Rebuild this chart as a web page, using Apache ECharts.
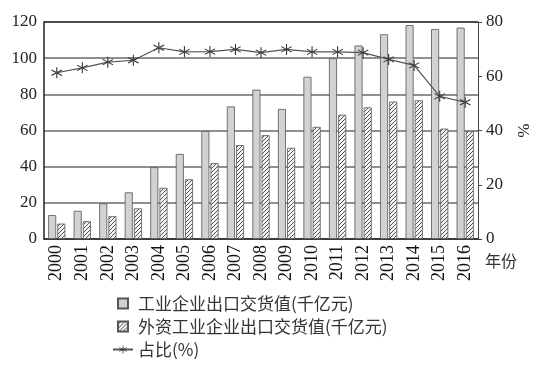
<!DOCTYPE html>
<html>
<head>
<meta charset="utf-8">
<script src="https://cdn.jsdelivr.net/npm/echarts@6/dist/echarts.min.js"></script>
<style>
  html, body { margin: 0; padding: 0; background: #fff; }
  #chart { width: 550px; height: 376px; }
</style>
</head>
<body>
<div id="chart"></div>
<script>
const years = ['2000', '2001', '2002', '2003', '2004', '2005', '2006', '2007', '2008',
  '2009', '2010', '2011', '2012', '2013', '2014', '2015', '2016'];
const industryExport = [13.2, 15.6, 19.7, 25.8, 39.7, 47, 59.7, 73.3, 82.6,
  71.9, 89.7, 100, 107, 113.2, 118.3, 116.1, 116.9];
const foreignExport = [8.5, 9.8, 12.6, 16.9, 28.3, 33, 41.9, 51.9, 57.4,
  50.4, 62, 68.7, 72.8, 76, 76.7, 61, 59.8];
const sharePct = [61.3, 63.1, 65.2, 65.9, 70.5, 69, 69.1, 69.9, 68.7,
  69.9, 69, 69, 68.7, 66.2, 64, 52.6, 50.4];
const leftTicks = [0, 20, 40, 60, 80, 100, 120];
const rightTicks = [0, 20, 40, 60, 80];

const serif = '"Liberation Serif", "Noto Sans CJK SC", serif';
const cjk = '"Noto Sans CJK SC", "Liberation Serif", sans-serif';

// diagonal hatch pattern for the foreign-funded bars
const hatch = document.createElement('canvas');
hatch.width = 4;
hatch.height = 4;
const hctx = hatch.getContext('2d');
hctx.fillStyle = '#f4f4f4';
hctx.fillRect(0, 0, 4, 4);
hctx.strokeStyle = '#555';
hctx.lineWidth = 1;
hctx.beginPath();
hctx.moveTo(0, 4);
hctx.lineTo(4, 0);
hctx.moveTo(-1, 1);
hctx.lineTo(1, -1);
hctx.moveTo(3, 5);
hctx.lineTo(5, 3);
hctx.stroke();

const star = 'path://M-0.09,-1L0.09,-1L0.09,1L-0.09,1Z' +
  'M-0.82,-0.58L0.91,0.42L0.82,0.58L-0.91,-0.42Z' +
  'M-0.82,0.58L0.91,-0.42L0.82,-0.58L-0.91,0.42Z';

// grid lines grey, top frame line black
const gridColors = leftTicks.map((t, i) => (i === leftTicks.length - 1 ? '#111' : '#6a6a6a'));

const chart = echarts.init(document.getElementById('chart'));

chart.setOption({
  animation: false,
  grid: { left: 44, right: 72, top: 22, bottom: 137 },
  legend: {
    orient: 'vertical',
    left: 107,
    top: 290,
    itemGap: 6,
    itemWidth: 20,
    itemHeight: 10,
    textStyle: { fontFamily: cjk, fontSize: 17, color: '#333' },
    data: [
      { name: '工业企业出口交货值(千亿元)', icon: 'path://M0,0h1v1h-1z' },
      { name: '外资工业企业出口交货值(千亿元)', icon: 'path://M0,0h1v1h-1z' },
      { name: '占比(%)' }
    ]
  },
  xAxis: {
    type: 'category',
    data: years,
    axisLine: { lineStyle: { color: '#222', width: 1.5 } },
    axisTick: { show: false },
    axisLabel: { rotate: 90, fontFamily: serif, fontSize: 18, color: '#111', margin: 6 }
  },
  yAxis: [
    {
      type: 'value',
      min: leftTicks[0],
      max: leftTicks[leftTicks.length - 1],
      interval: 20,
      axisLine: { show: true, lineStyle: { color: '#222', width: 1.5 } },
      axisTick: { show: false },
      axisLabel: { fontFamily: serif, fontSize: 17, color: '#222', margin: 7 },
      splitLine: { lineStyle: { color: gridColors, width: 1.6 } }
    },
    {
      type: 'value',
      min: rightTicks[0],
      max: rightTicks[rightTicks.length - 1],
      interval: 20,
      name: '%',
      nameLocation: 'middle',
      nameGap: 32,
      nameRotate: -90,
      nameTextStyle: { fontFamily: serif, fontSize: 17, color: '#222' },
      axisLine: { show: true, lineStyle: { color: '#444', width: 1 } },
      axisTick: { show: true, length: 4, lineStyle: { color: '#444' } },
      axisLabel: { fontFamily: serif, fontSize: 17, color: '#222', margin: 8 },
      splitLine: { show: false }
    }
  ],
  series: [
    {
      name: '工业企业出口交货值(千亿元)',
      type: 'bar',
      data: industryExport,
      barWidth: 8,
      barGap: '15%',
      itemStyle: { color: '#d2d2d2', borderColor: '#555', borderWidth: 0.8 }
    },
    {
      name: '外资工业企业出口交货值(千亿元)',
      type: 'bar',
      data: foreignExport,
      barWidth: 8,
      itemStyle: { color: { image: hatch, repeat: 'repeat' }, borderColor: '#555', borderWidth: 0.8 }
    },
    {
      name: '占比(%)',
      type: 'line',
      yAxisIndex: 1,
      data: sharePct,
      symbol: star,
      symbolSize: 11,
      itemStyle: { color: '#333' },
      lineStyle: { color: '#555', width: 1.2 }
    }
  ],
  graphic: [
    {
      type: 'text',
      left: 485,
      top: 253,
      style: { text: '年份', font: '16px ' + cjk, fill: '#333' }
    }
  ]
});
</script>
</body>
</html>
